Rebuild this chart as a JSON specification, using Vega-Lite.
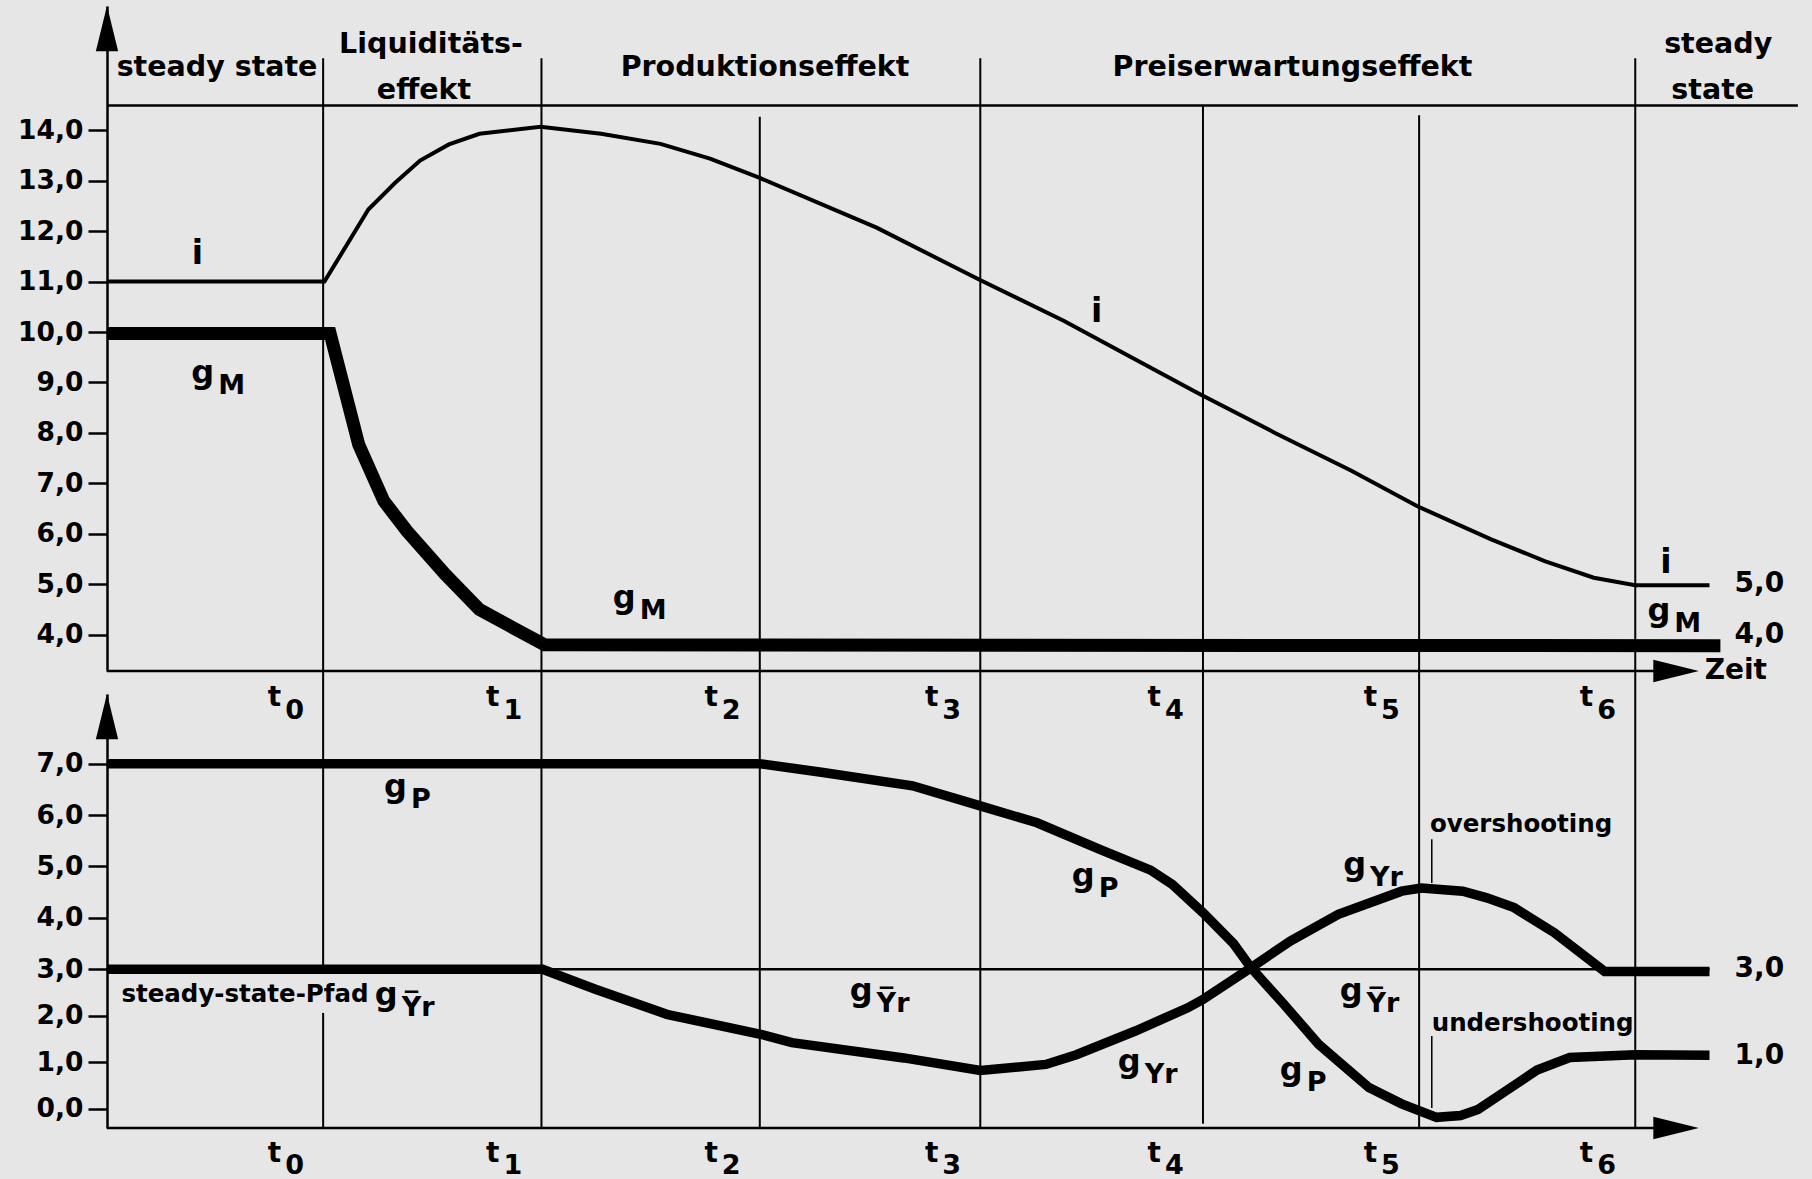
{
  "$schema": "https://vega.github.io/schema/vega-lite/v6.json",
  "background": "#e6e6e6",
  "padding": {"left": 17, "top": 5, "right": 16, "bottom": 2},
  "autosize": {"type": "pad"},
  "bounds": "flush",
  "spacing": 23,
  "config": {
    "view": {"stroke": null, "fill": null},
    "text": {"font": "DejaVu Sans", "fontWeight": "bold", "color": "black"},
    "axis": {"labelFont": "DejaVu Sans", "labelFontWeight": "bold", "labelFontSize": 26.5, "labelColor": "black", "labelPadding": 5, "tickSize": 19, "tickWidth": 2.5, "tickColor": "black", "domainColor": "black", "domainWidth": 2.5, "grid": false}
  },
  "datasets": {
    "top": [
      {"s":"i","x":0,"y":11.0},{"s":"i","x":0.996,"y":11.0},{"s":"i","x":1.197,"y":12.43},{"s":"i","x":1.32,"y":12.96},
      {"s":"i","x":1.434,"y":13.4},{"s":"i","x":1.566,"y":13.72},{"s":"i","x":1.706,"y":13.93},{"s":"i","x":1.986,"y":14.07},
      {"s":"i","x":2.263,"y":13.93},{"s":"i","x":2.535,"y":13.73},{"s":"i","x":2.762,"y":13.44},{"s":"i","x":2.987,"y":13.06},
      {"s":"i","x":3.525,"y":12.07},{"s":"i","x":3.999,"y":11.03},{"s":"i","x":4.384,"y":10.22},{"s":"i","x":4.7,"y":9.48},
      {"s":"i","x":5.0,"y":8.78},{"s":"i","x":5.35,"y":8.0},{"s":"i","x":5.7,"y":7.25},{"s":"i","x":6.0,"y":6.55},
      {"s":"i","x":6.34,"y":5.89},{"s":"i","x":6.585,"y":5.46},{"s":"i","x":6.81,"y":5.13},{"s":"i","x":7.0,"y":4.98},{"s":"i","x":7.34,"y":4.98},
      {"s":"gM","x":0,"y":9.97},{"s":"gM","x":1.022,"y":9.97},{"s":"gM","x":1.153,"y":7.77},{"s":"gM","x":1.268,"y":6.65},
      {"s":"gM","x":1.373,"y":6.06},{"s":"gM","x":1.548,"y":5.2},{"s":"gM","x":1.706,"y":4.5},{"s":"gM","x":1.846,"y":4.17},
      {"s":"gM","x":2.004,"y":3.8},{"s":"gM","x":7.39,"y":3.78}
    ],
    "vtop": [
      {"x":0.99,"y":15.43,"y2":3.28},{"x":1.99,"y":15.43,"y2":3.28},{"x":2.99,"y":14.27,"y2":3.28},
      {"x":4.0,"y":15.43,"y2":3.28},{"x":5.02,"y":14.49,"y2":3.28},{"x":6.01,"y":14.3,"y2":3.28},{"x":7.0,"y":15.43,"y2":3.28}
    ],
    "htop": [{"x":0,"x2":7.745,"y":14.49},{"x":0,"x2":7.19,"y":3.28}],
    "arrtop": [{"x":0,"y":16.018,"dir":"up"},{"x":7.187,"y":3.28,"dir":"right"}],
    "hdr": [
      {"x":0.504,"y":15.077,"text":"steady state"},
      {"x":1.484,"y":15.54,"text":"Liquiditäts-"},
      {"x":1.452,"y":14.62,"text":"effekt"},
      {"x":3.014,"y":15.077,"text":"Produktionseffekt"},
      {"x":5.43,"y":15.077,"text":"Preiserwartungseffekt"},
      {"x":7.38,"y":15.53,"text":"steady"},
      {"x":7.355,"y":14.62,"text":"state"}
    ],
    "itxt": [{"x":0.414,"y":11.34,"text":"i"},{"x":4.533,"y":10.2,"text":"i"},{"x":7.14,"y":5.23,"text":"i"}],
    "gtop": [
      {"x":0.5,"y":9.19,"main":"g","sub":"M"},
      {"x":2.431,"y":4.72,"main":"g","sub":"M"},
      {"x":7.17,"y":4.47,"main":"g","sub":"M"}
    ],
    "rtop": [{"x":7.455,"y":5.0,"text":"5,0"},{"x":7.455,"y":4.0,"text":"4,0"},{"x":7.318,"y":3.28,"text":"Zeit"}],
    "bot": [
      {"s":"gYbar","x":0,"y":3.0},{"s":"gYbar","x":7.34,"y":3.0},
      {"s":"gP","x":0,"y":7.0},{"s":"gP","x":2.99,"y":7.0},{"s":"gP","x":3.28,"y":6.83},{"s":"gP","x":3.69,"y":6.57},
      {"s":"gP","x":4.0,"y":6.18},{"s":"gP","x":4.26,"y":5.85},{"s":"gP","x":4.55,"y":5.33},{"s":"gP","x":4.78,"y":4.93},
      {"s":"gP","x":4.88,"y":4.65},{"s":"gP","x":5.02,"y":4.1},{"s":"gP","x":5.16,"y":3.5},{"s":"gP","x":5.24,"y":3.03},
      {"s":"gP","x":5.39,"y":2.25},{"s":"gP","x":5.55,"y":1.38},{"s":"gP","x":5.78,"y":0.45},{"s":"gP","x":5.93,"y":0.1},
      {"s":"gP","x":6.09,"y":-0.19},{"s":"gP","x":6.2,"y":-0.15},{"s":"gP","x":6.28,"y":-0.02},{"s":"gP","x":6.43,"y":0.45},
      {"s":"gP","x":6.55,"y":0.83},{"s":"gP","x":6.7,"y":1.1},{"s":"gP","x":7.0,"y":1.16},{"s":"gP","x":7.34,"y":1.15},
      {"s":"gYr","x":0,"y":3.0},{"s":"gYr","x":1.995,"y":3.0},{"s":"gYr","x":2.237,"y":2.57},{"s":"gYr","x":2.564,"y":2.03},
      {"s":"gYr","x":2.994,"y":1.6},{"s":"gYr","x":3.137,"y":1.42},{"s":"gYr","x":3.65,"y":1.09},{"s":"gYr","x":4.0,"y":0.82},
      {"s":"gYr","x":4.3,"y":0.95},{"s":"gYr","x":4.44,"y":1.16},{"s":"gYr","x":4.71,"y":1.67},{"s":"gYr","x":4.95,"y":2.17},
      {"s":"gYr","x":5.02,"y":2.35},{"s":"gYr","x":5.24,"y":3.03},{"s":"gYr","x":5.42,"y":3.55},{"s":"gYr","x":5.64,"y":4.07},
      {"s":"gYr","x":5.93,"y":4.52},{"s":"gYr","x":6.02,"y":4.58},{"s":"gYr","x":6.21,"y":4.52},{"s":"gYr","x":6.32,"y":4.39},
      {"s":"gYr","x":6.445,"y":4.2},{"s":"gYr","x":6.63,"y":3.71},{"s":"gYr","x":6.86,"y":2.95},{"s":"gYr","x":7.34,"y":2.95}
    ],
    "vbot": [
      {"x":0.99,"y":8.81,"y2":3.0},{"x":0.99,"y":2.06,"y2":-0.42},
      {"x":1.99,"y":8.81,"y2":-0.42},{"x":2.99,"y":8.81,"y2":-0.42},{"x":4.0,"y":8.81,"y2":-0.42},
      {"x":5.02,"y":8.81,"y2":-0.33},{"x":6.01,"y":8.81,"y2":-0.42},{"x":7.0,"y":8.81,"y2":-0.42}
    ],
    "ptr": [{"x":6.068,"y":5.53,"y2":4.68},{"x":6.068,"y":1.56,"y2":0.01}],
    "hbot": [{"x":0,"x2":7.19,"y":-0.42}],
    "arrbot": [{"x":0,"y":7.918,"dir":"up"},{"x":7.187,"y":-0.42,"dir":"right"}],
    "gbot": [
      {"x":1.383,"y":6.55,"main":"g","sub":"P"},
      {"x":4.533,"y":4.82,"main":"g","sub":"P"},
      {"x":5.486,"y":0.83,"main":"g","sub":"P"},
      {"x":5.776,"y":5.02,"main":"g","sub":"Yr"},
      {"x":4.744,"y":1.0,"main":"g","sub":"Yr"},
      {"x":3.516,"y":2.525,"main":"g","sub":"Y\u0305r"},
      {"x":5.76,"y":2.525,"main":"g","sub":"Y\u0305r"},
      {"x":1.341,"y":2.45,"main":"g","sub":"Y\u0305r"}
    ],
    "ssp": [{"x":1.198,"y":2.45,"text":"steady-state-Pfad"}],
    "shoot": [{"x":6.477,"y":5.81,"text":"overshooting"},{"x":6.53,"y":1.82,"text":"undershooting"}],
    "rbot": [{"x":7.455,"y":3.0,"text":"3,0"},{"x":7.455,"y":1.13,"text":"1,0"}],
    "tlab": [
      {"x":0.99,"y":8.278,"k":"0"},{"x":1.99,"y":8.278,"k":"1"},{"x":2.99,"y":8.278,"k":"2"},{"x":4.0,"y":8.278,"k":"3"},
      {"x":5.02,"y":8.278,"k":"4"},{"x":6.01,"y":8.278,"k":"5"},{"x":7.0,"y":8.278,"k":"6"},
      {"x":0.99,"y":-0.976,"k":"0"},{"x":1.99,"y":-0.976,"k":"1"},{"x":2.99,"y":-0.976,"k":"2"},{"x":4.0,"y":-0.976,"k":"3"},
      {"x":5.02,"y":-0.976,"k":"4"},{"x":6.01,"y":-0.976,"k":"5"},{"x":7.0,"y":-0.976,"k":"6"}
    ]
  },
  "vconcat": [
    {
      "width": 1692,
      "height": 665,
      "encoding": {
        "x": {"field": "x", "type": "quantitative", "scale": {"domain": [0, 7.75], "nice": false, "zero": false}, "axis": null},
        "y": {"field": "y", "type": "quantitative", "scale": {"domain": [3.28, 16.464], "nice": false, "zero": false},
              "axis": {"values": [4,5,6,7,8,9,10,11,12,13,14], "format": ".1f", "labelExpr": "replace(datum.label, '.', ',')", "title": null}}
      },
      "layer": [
        {"data": {"name": "vtop"}, "mark": {"type": "rule", "color": "black", "strokeWidth": 2}, "encoding": {"y2": {"field": "y2"}}},
        {"data": {"name": "htop"}, "mark": {"type": "rule", "color": "black", "strokeWidth": 2.5}, "encoding": {"x2": {"field": "x2"}}},
        {"data": {"name": "top"}, "transform": [{"filter": "datum.s === 'i'"}], "mark": {"type": "line", "color": "black", "strokeCap": "butt", "strokeWidth": 4}, "encoding": {}},
        {"data": {"name": "top"}, "transform": [{"filter": "datum.s === 'gM'"}], "mark": {"type": "line", "color": "black", "strokeCap": "butt", "strokeWidth": 13}, "encoding": {}},
        {"data": {"name": "arrtop"}, "mark": {"type": "point", "filled": true, "color": "black", "opacity": 1, "strokeWidth": 0, "size": 2070},
         "encoding": {"shape": {"field": "dir", "type": "nominal", "scale": {"domain": ["up", "right"], "range": ["M0,-1L0.49,1L-0.49,1Z", "M1,0L-1,-0.49L-1,0.49Z"]}, "legend": null}}},
        {"data": {"name": "hdr"}, "mark": {"type": "text", "fontSize": 28.5, "align": "center", "baseline": "alphabetic"}, "encoding": {"text": {"field": "text"}}},
        {"data": {"name": "itxt"}, "mark": {"type": "text", "fontSize": 33, "align": "center", "baseline": "alphabetic"}, "encoding": {"text": {"field": "text"}}},
        {"data": {"name": "gtop"}, "mark": {"type": "text", "fontSize": 32, "align": "right", "baseline": "middle", "dx": -2}, "encoding": {"text": {"field": "main"}}},
        {"data": {"name": "gtop"}, "mark": {"type": "text", "fontSize": 27, "align": "left", "baseline": "middle", "dx": 2, "dy": 13}, "encoding": {"text": {"field": "sub"}}},
        {"data": {"name": "rtop"}, "mark": {"type": "text", "fontSize": 28, "align": "left", "baseline": "middle"}, "encoding": {"text": {"field": "text"}}}
      ]
    },
    {
      "width": 1692,
      "height": 434,
      "encoding": {
        "x": {"field": "x", "type": "quantitative", "scale": {"domain": [0, 7.75], "nice": false, "zero": false}, "axis": null},
        "y": {"field": "y", "type": "quantitative", "scale": {"domain": [-0.42, 3, 8.356], "range": [434, 275.3, 0], "nice": false, "zero": false},
              "axis": {"values": [0,1,2,3,4,5,6,7], "format": ".1f", "labelExpr": "replace(datum.label, '.', ',')", "title": null}}
      },
      "layer": [
        {"data": {"name": "vbot"}, "mark": {"type": "rule", "color": "black", "strokeWidth": 2}, "encoding": {"y2": {"field": "y2"}}},
        {"data": {"name": "ptr"}, "mark": {"type": "rule", "color": "black", "strokeWidth": 1.5}, "encoding": {"y2": {"field": "y2"}}},
        {"data": {"name": "hbot"}, "mark": {"type": "rule", "color": "black", "strokeWidth": 2.5}, "encoding": {"x2": {"field": "x2"}}},
        {"data": {"name": "bot"}, "transform": [{"filter": "datum.s === 'gYbar'"}], "mark": {"type": "line", "color": "black", "strokeCap": "butt", "strokeWidth": 2.5}, "encoding": {}},
        {"data": {"name": "bot"}, "transform": [{"filter": "datum.s === 'gP'"}], "mark": {"type": "line", "color": "black", "strokeCap": "butt", "strokeWidth": 9.5}, "encoding": {}},
        {"data": {"name": "bot"}, "transform": [{"filter": "datum.s === 'gYr'"}], "mark": {"type": "line", "color": "black", "strokeCap": "butt", "strokeWidth": 9.5}, "encoding": {}},
        {"data": {"name": "arrbot"}, "mark": {"type": "point", "filled": true, "color": "black", "opacity": 1, "strokeWidth": 0, "size": 2070},
         "encoding": {"shape": {"field": "dir", "type": "nominal", "scale": {"domain": ["up", "right"], "range": ["M0,-1L0.49,1L-0.49,1Z", "M1,0L-1,-0.49L-1,0.49Z"]}, "legend": null}}},
        {"data": {"name": "gbot"}, "mark": {"type": "text", "fontSize": 32, "align": "right", "baseline": "middle", "dx": -2}, "encoding": {"text": {"field": "main"}}},
        {"data": {"name": "gbot"}, "mark": {"type": "text", "fontSize": 27, "align": "left", "baseline": "middle", "dx": 2, "dy": 13}, "encoding": {"text": {"field": "sub"}}},
        {"data": {"name": "ssp"}, "mark": {"type": "text", "fontSize": 24.5, "align": "right", "baseline": "middle"}, "encoding": {"text": {"field": "text"}}},
        {"data": {"name": "shoot"}, "mark": {"type": "text", "fontSize": 24.5, "align": "center", "baseline": "middle"}, "encoding": {"text": {"field": "text"}}},
        {"data": {"name": "rbot"}, "mark": {"type": "text", "fontSize": 28, "align": "left", "baseline": "middle"}, "encoding": {"text": {"field": "text"}}},
        {"data": {"name": "tlab"}, "mark": {"type": "text", "text": "t", "fontSize": 28, "align": "right", "baseline": "middle", "dx": -42}, "encoding": {}},
        {"data": {"name": "tlab"}, "mark": {"type": "text", "fontSize": 27, "align": "left", "baseline": "middle", "dx": -38, "dy": 12.5}, "encoding": {"text": {"field": "k"}}}
      ]
    }
  ]
}
